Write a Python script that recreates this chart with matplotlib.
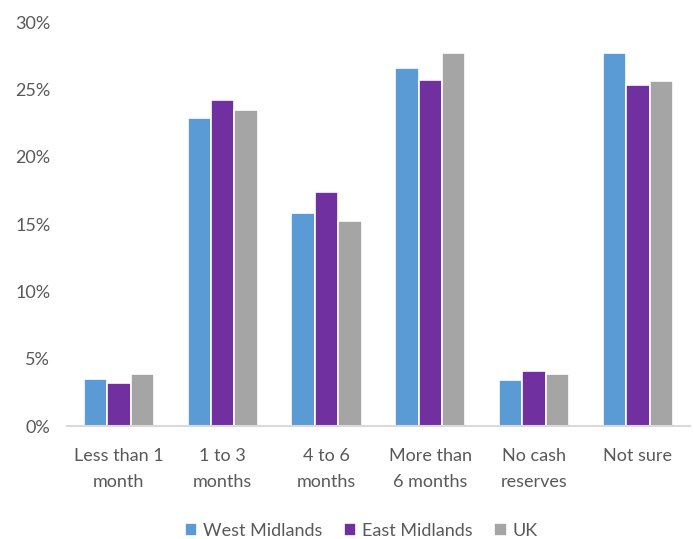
import matplotlib
matplotlib.use("Agg")
import matplotlib.pyplot as plt
import numpy as np
from matplotlib.ticker import FuncFormatter

categories = ["Less than 1\nmonth", "1 to 3\nmonths", "4 to 6\nmonths", "More than\n6 months", "No cash\nreserves", "Not sure"]
west_midlands = [3.5, 22.9, 15.8, 26.6, 3.4, 27.7]
east_midlands = [3.2, 24.2, 17.4, 25.7, 4.05, 25.3]
uk = [3.9, 23.5, 15.25, 27.7, 3.9, 25.65]
series_names = ["West Midlands", "East Midlands", "UK"]
colors = ["#5B9BD5", "#7030A0", "#A5A5A5"]

plt.rcParams['font.family'] = ['Lato', 'DejaVu Sans']
text_color = "#595959"

fig = plt.figure(figsize=(6.94, 5.39), dpi=100)
ax = fig.add_axes([0.0965, 0.2096, 0.8975, 0.7494])

x = np.arange(len(categories))
w = 0.225
for i, (vals, name, c) in enumerate(zip([west_midlands, east_midlands, uk], series_names, colors)):
    ax.bar(x + (i - 1) * w, vals, width=w, color=c, edgecolor="white", linewidth=1.2, label=name)

ax.set_xlim(-0.5, len(categories) - 0.5)
ax.set_ylim(0, 30)
ax.set_yticks(np.arange(0, 31, 5))
ax.yaxis.set_major_formatter(FuncFormatter(lambda v, p: f"{int(v)}%"))
ax.set_xticks(x)
ax.set_xticklabels(categories, linespacing=1.75)
for s in ["top", "right", "left"]:
    ax.spines[s].set_visible(False)
ax.spines["bottom"].set_color("#D9D9D9")
ax.spines["bottom"].set_linewidth(1.5)
ax.tick_params(axis="both", length=0, colors=text_color, labelsize=13)
ax.tick_params(axis="x", pad=16)
ax.tick_params(axis="y", pad=12)

leg = fig.legend(loc="lower center", bbox_to_anchor=(0.52, -0.03), ncol=3, frameon=False,
                 fontsize=13, handlelength=0.7, handleheight=0.7, handletextpad=0.3, columnspacing=1.2)
for t in leg.get_texts():
    t.set_color(text_color)

fig.savefig("out.png", dpi=100)
